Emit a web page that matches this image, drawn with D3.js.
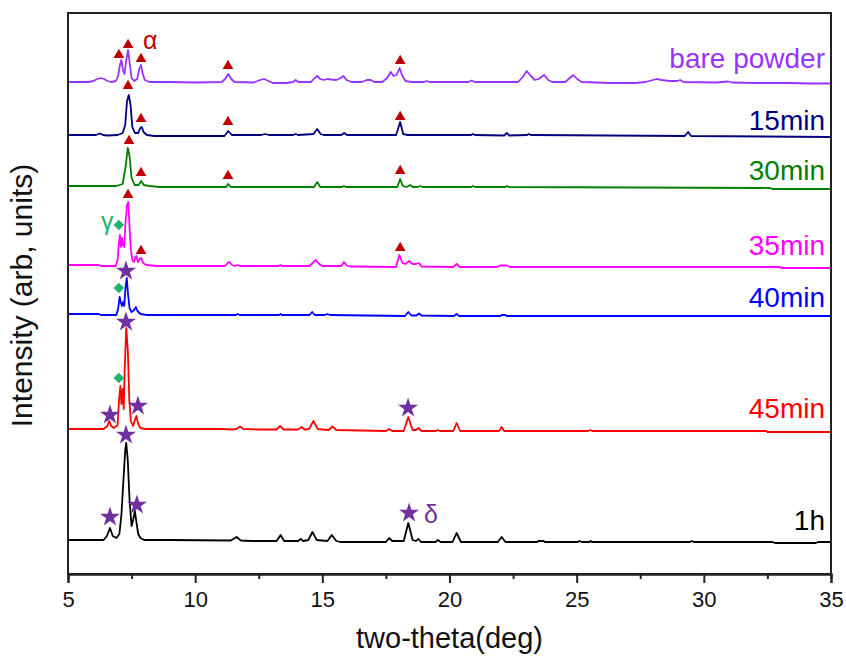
<!DOCTYPE html>
<html>
<head>
<meta charset="utf-8">
<script src="https://cdn.jsdelivr.net/npm/d3@7"></script>
<style>
  html, body { margin: 0; padding: 0; background: #fff; }
  svg { display: block; font-family: "Liberation Sans", Arial, sans-serif; }
</style>
</head>
<body>
<svg id="chart" width="846" height="662"></svg>
<script>
// XRD patterns (2θ, intensity above each trace's own baseline, arb. units)
const bare = [[5,0],[5.8,0],[6.0,1],[6.15,3],[6.28,4],[6.42,3],[6.55,1],[6.7,0],[6.88,1],[6.97,6],[7.04,17],[7.1,22],[7.16,12],[7.22,8],[7.28,20],[7.36,32],[7.43,18],[7.5,4],[7.6,1],[7.72,3],[7.8,13],[7.87,17],[7.94,8],[8.02,2],[8.2,0],[9,0],[10,-0.5],[11.05,0],[11.18,3],[11.3,8],[11.42,3],[11.55,0],[12.3,-0.5],[12.55,2],[12.71,3],[12.88,1],[13.05,-1],[13.6,-1],[13.85,0],[13.95,2],[14.06,0],[14.55,0],[14.7,4],[14.8,6],[14.92,3],[15.05,2],[15.2,3],[15.35,2.5],[15.55,2],[15.72,4],[15.83,6],[15.95,2],[16.15,0],[16.55,0],[16.75,2],[16.9,2],[17.05,0],[17.35,0],[17.55,4],[17.69,10],[17.8,6],[17.92,7],[18.04,14],[18.13,7],[18.27,1],[18.5,0],[19.0,0],[19.1,1],[19.22,0],[20.75,0],[20.87,1.5],[21.0,0],[22.7,0],[22.88,5],[23.04,11],[23.2,6],[23.36,2],[23.5,3],[23.72,7],[23.88,2],[24.05,0],[24.55,0],[24.73,4],[24.87,7],[25.02,3],[25.2,0],[26.3,-1],[27.3,-1],[27.7,0],[28.0,2],[28.15,3],[28.35,2],[28.65,1],[28.95,1],[29.07,2],[29.2,0],[30.5,-0.5],[30.95,0.5],[31.1,-0.5],[32,-1],[33.3,-1],[34.2,-1.5],[35,-1.5]];
const min15 = [[5,0],[6.1,0],[6.25,1.5],[6.38,0],[6.55,-0.5],[6.95,0],[7.15,2],[7.25,10],[7.32,34],[7.39,40],[7.46,30],[7.53,8],[7.63,2],[7.76,2],[7.84,7],[7.9,8],[7.97,3],[8.1,0],[8.4,-1],[11.15,-1],[11.3,4],[11.44,0],[12.6,0],[12.75,1],[12.9,0],[13.85,0],[13.95,1],[14.05,0],[14.65,1],[14.8,6],[14.93,1],[15.05,0],[15.75,0],[15.86,2],[15.97,0],[17.9,0],[18.06,13],[18.18,1],[18.35,0],[20.85,0],[20.92,1],[21.0,0],[22.15,-0.5],[22.25,2],[22.35,-0.5],[23.05,0],[23.12,1],[23.2,0],[29.25,-1],[29.38,3],[29.5,-1],[35,-2]];
const min30 = [[5,0],[6.9,0],[7.15,2],[7.27,20],[7.35,38],[7.42,30],[7.5,8],[7.62,1],[7.78,1],[7.88,5],[7.98,1],[8.2,0],[8.6,-1],[11.22,-1],[11.3,2],[11.4,-1],[14.68,-1],[14.8,4],[14.92,-1],[15.78,-1],[15.85,0],[15.92,-1],[17.95,-1],[18.06,7],[18.16,0],[18.32,-1],[18.45,1],[18.56,-1],[18.75,-1],[18.85,0],[18.95,-1],[20.85,-1],[20.92,0],[21.0,-1],[22.2,-1],[22.26,0],[22.33,-1],[32.6,-2],[32.7,-3],[35,-3]];
const min35 = [[5,0],[6.2,0],[6.3,-1],[6.88,-1],[6.95,5],[7.0,22],[7.04,30],[7.08,18],[7.12,27],[7.16,20],[7.21,18],[7.26,42],[7.32,60],[7.37,63],[7.42,38],[7.47,16],[7.53,5],[7.6,3],[7.65,8],[7.69,9],[7.75,3],[7.82,6],[7.88,7],[7.95,2],[8.08,0],[8.5,-1],[11.18,-1],[11.28,2],[11.35,3],[11.44,0],[11.58,-1],[11.67,0],[11.76,-1],[13.28,-1],[13.35,0],[13.42,-1],[14.5,-1],[14.62,2],[14.74,5],[14.88,1],[15.0,-1],[15.75,-1],[15.85,3],[15.96,-0.5],[16.1,-1.5],[17.9,-2],[18.03,10],[18.15,2],[18.27,1],[18.41,4],[18.55,1],[18.68,1],[18.8,2],[18.9,-1.5],[20.15,-2],[20.28,1],[20.4,-2],[21.85,-2],[22.0,-0.5],[22.25,-0.5],[22.38,-2],[33.0,-2],[33.05,-3],[35,-3]];
const min40 = [[5,0],[6.2,0],[6.3,-1],[6.9,-1],[6.97,5],[7.03,17],[7.07,12],[7.12,8],[7.17,12],[7.21,8],[7.26,26],[7.31,36],[7.36,20],[7.42,6],[7.5,2],[7.6,4],[7.67,7],[7.73,3],[7.85,0],[8.1,-1],[11.6,-1],[11.67,0],[11.75,-1],[13.3,-1],[13.36,0],[13.42,-1],[14.5,-1],[14.6,2],[14.7,-1],[15.1,-1],[15.2,0],[15.3,-1],[18.25,-2],[18.38,2],[18.5,-1.5],[18.7,-1.5],[18.8,0.5],[18.9,-1.5],[20.18,-2],[20.28,0],[20.38,-2],[22.0,-2],[22.05,-1],[22.2,-1],[22.25,-2],[35,-2]];
const min45 = [[5,0],[6.4,0],[6.55,3],[6.62,8],[6.7,3],[6.8,1],[6.95,4],[7.01,30],[7.06,43],[7.1,25],[7.15,40],[7.19,20],[7.23,60],[7.29,101],[7.35,80],[7.41,30],[7.47,8],[7.56,3],[7.63,9],[7.69,13],[7.76,5],[7.85,1],[8.05,0],[11.0,0],[11.5,-0.5],[11.62,0],[11.76,2.5],[11.9,0],[12.5,-0.5],[13.2,-0.5],[13.34,3],[13.48,-0.5],[14.05,-0.5],[14.19,2],[14.3,-0.5],[14.48,0],[14.65,8],[14.82,0],[15.25,-1],[15.4,2.5],[15.55,-1],[17.5,-2],[17.63,0],[17.75,-2],[18.2,-2],[18.38,12],[18.55,-1],[18.68,-1],[18.78,1],[18.9,-2],[19.45,-2],[19.54,-1],[19.63,-2],[20.15,-2],[20.28,6],[20.42,-2],[21.95,-2],[22.05,2],[22.15,-2],[25.45,-2],[25.53,-1],[25.62,-2],[32.45,-2],[32.5,-3],[35,-3]];
const hour1 = [[5,0],[6.4,0],[6.53,4],[6.65,12],[6.76,4],[6.9,2],[7.02,6],[7.1,25],[7.18,60],[7.25,90],[7.29,97],[7.35,80],[7.42,40],[7.5,14],[7.56,20],[7.63,29],[7.69,18],[7.76,6],[7.85,2],[8.0,0],[9.0,0],[11.4,-0.5],[11.63,3],[11.8,-0.5],[12.2,-1],[13.2,-1],[13.36,5],[13.5,-1],[14.05,-1],[14.15,1],[14.25,-1],[14.45,0],[14.61,8],[14.78,0],[15.2,-1],[15.37,5],[15.55,-1],[15.7,-2],[17.5,-2],[17.63,2],[17.75,-1],[18.2,-1],[18.38,17],[18.55,0],[18.68,-1],[18.78,1],[18.88,-2],[19.45,-2],[19.54,0],[19.65,-2],[20.12,-2],[20.28,7],[20.45,-2],[21.9,-2],[22.05,3],[22.2,-2],[23.45,-2],[23.5,-1],[23.7,-1],[23.75,-2],[25.05,-2],[25.1,-1],[25.2,-2],[25.5,-2],[25.55,-1],[25.6,-2],[29.45,-2],[29.53,-1],[29.6,-2],[32.7,-2],[32.8,-3],[34.4,-3],[34.5,-2],[35,-2]];

// Samples, stacking offsets and colours
const seriesNames  = ["bare powder", "15min", "30min", "35min", "40min", "45min", "1h"];
const seriesData   = [bare, min15, min30, min35, min40, min45, hour1];
const seriesOffset = [492, 439, 388, 309, 260, 145, 34];
const seriesColor  = ["#9933ff", "#000080", "#008000", "#ff00ff", "#0000ff", "#ff0000", "#000000"];
const labelLevel   = [506, 444, 394, 319, 267, 156, 44];

// Phase markers [2θ, stacked intensity]
const alphaMarks = [[7.0,519],[7.36,529],[7.87,515],[11.29,508],[18.06,513],
                    [7.36,488],[7.87,455],[11.29,452],[18.06,457],
                    [7.40,433],[7.87,401],[11.29,398],[18.06,403],
                    [7.36,379],[7.87,323],[18.06,326]];
const gammaMarks = [[7.0,349],[7.0,286],[7.0,196]];
const deltaMarks = [[7.28,303],[7.28,252],[6.65,159],[7.75,168],[18.37,166],
                    [7.28,139],[6.65,57],[7.71,69],[18.41,61]];
const phaseLabels = [
  {text: "α", x: 7.95,  y: 525, color: "#c00000"},
  {text: "γ", x: 6.3,   y: 344, color: "#1fb46a"},
  {text: "δ", x: 19.0,  y: 51,  color: "#7030a0"}
];

const xTicks = [5, 10, 15, 20, 25, 30, 35];
const xMinorTicks = [7.5, 12.5, 17.5, 22.5, 27.5, 32.5];

const svg = d3.select("#chart");
const margin = {left: 68, right: 15, top: 13, bottom: 88};
const W = 846, H = 662;
const x = d3.scaleLinear().domain([5, 35]).range([margin.left, W - margin.right]);
const y = d3.scaleLinear().domain([0, 561]).range([H - margin.bottom, margin.top]);

// Traces
const line = d3.line().x(d => x(d[0])).y(d => y(d[1]));
seriesData.forEach((pts, i) => {
  svg.append("path")
    .attr("d", line(pts.map(p => [p[0], p[1] + seriesOffset[i]])))
    .attr("fill", "none")
    .attr("stroke", seriesColor[i])
    .attr("stroke-width", 1.8)
    .attr("stroke-linejoin", "round");
  svg.append("text")
    .attr("x", W - 21)
    .attr("y", y(labelLevel[i]))
    .attr("text-anchor", "end")
    .attr("font-size", 28)
    .attr("fill", seriesColor[i])
    .text(seriesNames[i]);
});

// Markers
svg.append("g").selectAll("path").data(alphaMarks).join("path")
  .attr("d", d3.symbol(d3.symbolTriangle, 50))
  .attr("transform", d => `translate(${x(d[0])},${y(d[1])})`)
  .attr("fill", "#c00000");
svg.append("g").selectAll("path").data(gammaMarks).join("path")
  .attr("d", d3.symbol(d3.symbolSquare, 56))
  .attr("transform", d => `translate(${x(d[0])},${y(d[1])}) rotate(45)`)
  .attr("fill", "#1fb46a");
svg.append("g").selectAll("path").data(deltaMarks).join("path")
  .attr("d", d3.symbol(d3.symbolStar, 125))
  .attr("transform", d => `translate(${x(d[0])},${y(d[1])})`)
  .attr("fill", "#7030a0");
svg.append("g").selectAll("text").data(phaseLabels).join("text")
  .attr("x", d => x(d.x)).attr("y", d => y(d.y))
  .attr("font-size", 25)
  .attr("fill", d => d.color)
  .text(d => d.text);

// Frame and axes
const frame = "#222";
svg.append("rect")
  .attr("x", margin.left).attr("y", margin.top)
  .attr("width", W - margin.right - margin.left)
  .attr("height", H - margin.bottom - margin.top)
  .attr("fill", "none").attr("stroke", frame).attr("stroke-width", 2);

const axis = svg.append("g").attr("transform", `translate(0,${H - margin.bottom})`);
axis.call(d3.axisBottom(x).tickValues(xTicks).tickSize(9).tickPadding(8).tickFormat(d3.format("d")));
const minor = svg.append("g").attr("transform", `translate(0,${H - margin.bottom})`);
minor.call(d3.axisBottom(x).tickValues(xMinorTicks).tickSize(5).tickFormat(""));
[axis, minor].forEach(g => {
  g.select(".domain").attr("stroke", frame).attr("stroke-width", 2);
  g.selectAll(".tick line").attr("stroke", frame).attr("stroke-width", 2);
});
axis.selectAll(".tick text")
  .attr("font-size", 22)
  .attr("font-family", "'Liberation Sans', Arial, sans-serif")
  .attr("fill", "#111");

svg.append("text")
  .attr("x", (margin.left + W - margin.right) / 2)
  .attr("y", 648)
  .attr("text-anchor", "middle")
  .attr("font-size", 29)
  .attr("fill", "#111")
  .text("two-theta(deg)");

svg.append("text")
  .attr("transform", `translate(32,${(margin.top + H - margin.bottom) / 2 + 2}) rotate(-90)`)
  .attr("text-anchor", "middle")
  .attr("font-size", 30)
  .attr("fill", "#111")
  .text("Intensity (arb, units)");
</script>
</body>
</html>
